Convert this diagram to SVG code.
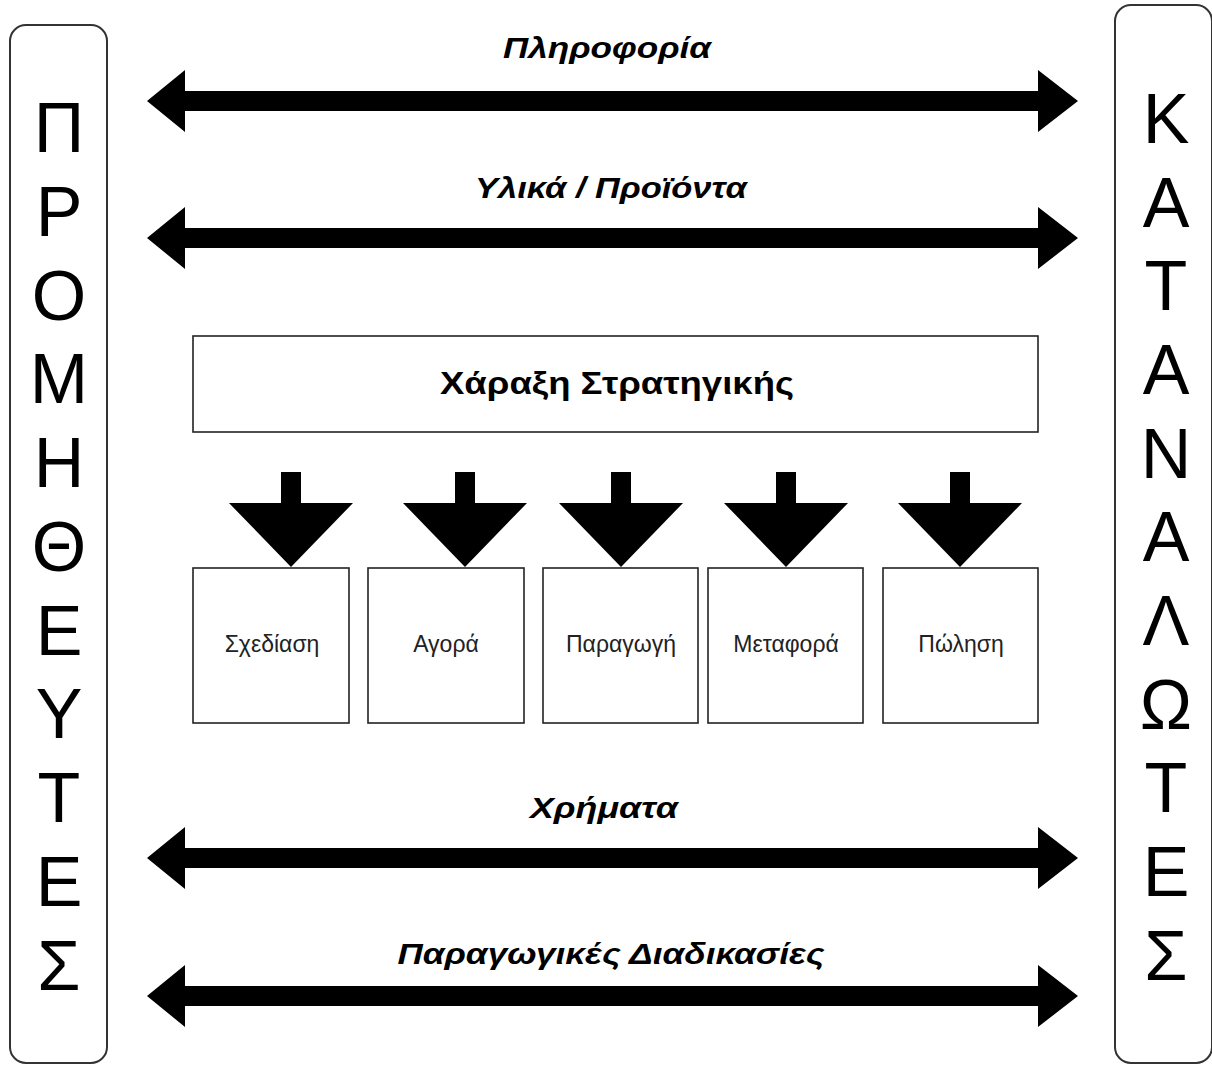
<svg xmlns="http://www.w3.org/2000/svg" width="1212" height="1067" viewBox="0 0 1212 1067">
<style>
.side{fill:#fff;stroke:#333;stroke-width:2}
.box{fill:#fff;stroke:#222;stroke-width:1.6}
.big{font-family:"Liberation Sans",Arial,sans-serif;font-size:70px;fill:#000;text-anchor:middle}
.lbl{font-family:"Liberation Sans",Arial,sans-serif;font-size:30px;font-weight:bold;font-style:italic;fill:#000;text-anchor:middle}
.title{font-family:"Liberation Sans",Arial,sans-serif;font-size:31px;font-weight:bold;fill:#000;text-anchor:middle}
.small{font-family:"Liberation Sans",Arial,sans-serif;font-size:23px;fill:#222;text-anchor:middle}
.arr{fill:#000}
</style>
<rect width="1212" height="1067" fill="#fff"/>
<g id="suppliers">
<rect class="side" x="10" y="25" width="97" height="1038" rx="16"/>
<text class="big" x="59" y="152">Π</text>
<text class="big" x="59" y="236">Ρ</text>
<text class="big" x="59" y="320">Ο</text>
<text class="big" x="59" y="403">Μ</text>
<text class="big" x="59" y="487">Η</text>
<text class="big" x="59" y="571">Θ</text>
<text class="big" x="59" y="655">Ε</text>
<text class="big" x="59" y="738">Υ</text>
<text class="big" x="59" y="822">Τ</text>
<text class="big" x="59" y="906">Ε</text>
<text class="big" x="59" y="990">Σ</text>
</g>
<g id="consumers">
<rect class="side" x="1115" y="5" width="97" height="1058" rx="16"/>
<text class="big" x="1166" y="143">Κ</text>
<text class="big" x="1166" y="227">Α</text>
<text class="big" x="1166" y="310">Τ</text>
<text class="big" x="1166" y="394">Α</text>
<text class="big" x="1166" y="478">Ν</text>
<text class="big" x="1166" y="561">Α</text>
<text class="big" x="1166" y="645">Λ</text>
<text class="big" x="1166" y="729">Ω</text>
<text class="big" x="1166" y="812">Τ</text>
<text class="big" x="1166" y="896">Ε</text>
<text class="big" x="1166" y="980">Σ</text>
</g>
<g id="strategy">
<rect class="box" x="193" y="336" width="845" height="96"/>
<text class="title" x="617" y="394" textLength="354" lengthAdjust="spacingAndGlyphs">Χάραξη Στρατηγικής</text>
</g>
<g id="design"><rect class="box" x="193" y="568" width="156" height="155"/><text class="small" x="272" y="652">Σχεδίαση</text></g>
<g id="purchase"><rect class="box" x="368" y="568" width="156" height="155"/><text class="small" x="446" y="652">Αγορά</text></g>
<g id="production"><rect class="box" x="543" y="568" width="155" height="155"/><text class="small" x="621" y="652">Παραγωγή</text></g>
<g id="transport"><rect class="box" x="708" y="568" width="155" height="155"/><text class="small" x="786" y="652">Μεταφορά</text></g>
<g id="sales"><rect class="box" x="883" y="568" width="155" height="155"/><text class="small" x="961" y="652">Πώληση</text></g>
<g id="labels">
<text class="lbl" x="607" y="58" textLength="208" lengthAdjust="spacingAndGlyphs">Πληροφορία</text>
<text class="lbl" x="611" y="198" textLength="272" lengthAdjust="spacingAndGlyphs">Υλικά / Προϊόντα</text>
<text class="lbl" x="604" y="818" textLength="148" lengthAdjust="spacingAndGlyphs">Χρήματα</text>
<text class="lbl" x="611" y="964" textLength="427" lengthAdjust="spacingAndGlyphs">Παραγωγικές Διαδικασίες</text>
</g>
<g id="connectors">
<defs>
<path id="dbl" d="M147 0 L185 -31 L185 -10 L1038 -10 L1038 -31 L1078 0 L1038 31 L1038 10 L185 10 L185 31 Z"/>
<path id="down" d="M-10 0 L10 0 L10 31 L62 31 L0 95 L-62 31 L-10 31 Z"/>
</defs>
<use href="#dbl" class="arr" y="101"/>
<use href="#dbl" class="arr" y="238"/>
<use href="#dbl" class="arr" y="858"/>
<use href="#dbl" class="arr" y="996"/>
<use href="#down" class="arr" x="291" y="472"/>
<use href="#down" class="arr" x="465" y="472"/>
<use href="#down" class="arr" x="621" y="472"/>
<use href="#down" class="arr" x="786" y="472"/>
<use href="#down" class="arr" x="960" y="472"/>
</g>
</svg>
